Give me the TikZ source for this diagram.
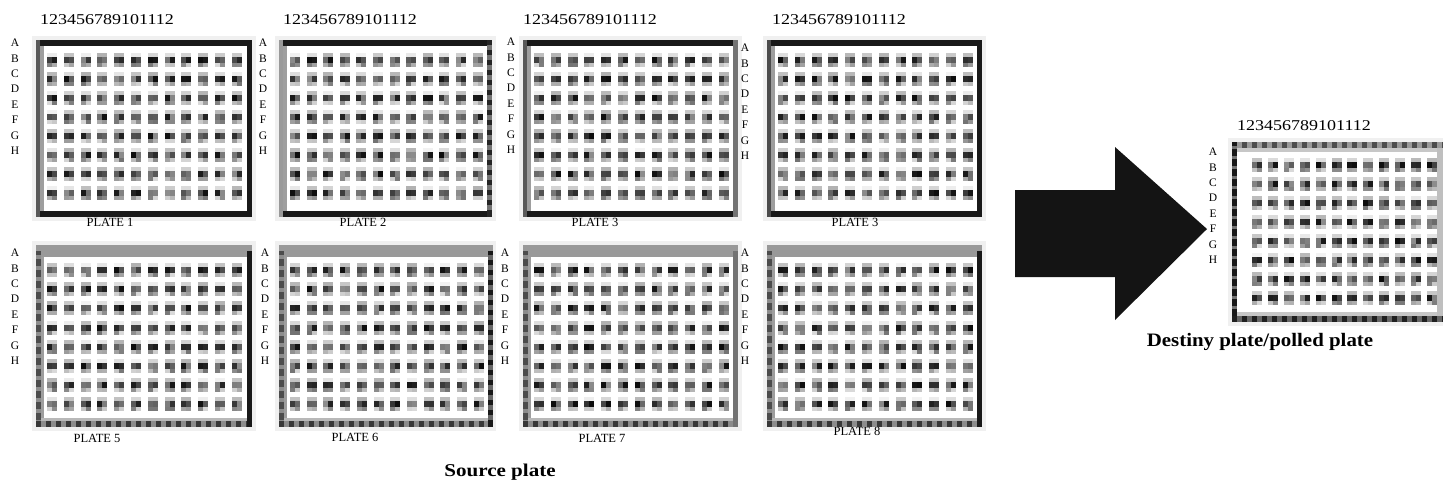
\documentclass[tikz,border=0pt]{standalone}
\usepackage{fontspec}
\setmainfont{Liberation Serif}
\usepackage{graphicx}
\tikzset{
  hdr/.style={anchor=west, inner sep=0pt, font=\fontsize{15}{18}\selectfont},
  rowlab/.style={anchor=north, inner sep=0pt, align=center, font=\fontsize{11.5}{15.4}\selectfont},
  platelab/.style={inner sep=0pt, font=\fontsize{12.5}{14}\selectfont},
  captionlab/.style={inner sep=0pt, font=\bfseries\fontsize{18}{22}\selectfont},
  mottle/.style={dash pattern=on 5pt off 5pt},
}
% wells: #1 first column x, #2 column step, #3 first row y, #4 row step
\newcommand{\platewells}[4]{%
  \foreach \ci in {0,...,11}{%
    \foreach \ri in {0,...,7}{%
      \pgfmathsetmacro{\wx}{#1+#2*\ci}%
      \pgfmathsetmacro{\wy}{#3+#4*\ri}%
      \pgfmathrandominteger{\ga}{5}{30}%
      \pgfmathrandominteger{\gb}{45}{95}%
      \pgfmathrandominteger{\gc}{45}{95}%
      \pgfmathrandominteger{\gd}{15}{55}%
      \pgfmathrandominteger{\ge}{15}{55}%
      \fill[black!\ga] (\wx-5,\wy-7) rectangle (\wx+5,\wy-3);
      \fill[black!\gb] (\wx-5,\wy-3) rectangle (\wx,\wy+3);
      \fill[black!\gc] (\wx,\wy-3) rectangle (\wx+5,\wy+3);
      \fill[black!\gd] (\wx-5,\wy+3) rectangle (\wx,\wy+7);
      \fill[black!\ge] (\wx,\wy+3) rectangle (\wx+5,\wy+7);
    }}}
% top-row plate frame: #1 L, #2 R, #3 left outer colour, #4 right colour
\newcommand{\topframe}[4]{%
  \fill[black!90] (#1,40) rectangle (#2,46);
  \fill[black!90] (#1,211) rectangle (#2,217);
  \fill[#3] (#1,40) rectangle (#1+4,217);
  \fill[black!38] (#1+4,46) rectangle (#1+8,211);
  \fill[#4] (#2-5,40) rectangle (#2,217);
}
% bottom-row plate frame: #1 L, #2 R, #3 right colour
\newcommand{\botframe}[3]{%
  \fill[black!40] (#1,245) rectangle (#2,257);
  \fill[black!70] (#1,251) rectangle (#1+5,427);
  \draw[black!45, line width=5pt, dash pattern=on 4pt off 7pt] (#1+2.5,255) -- (#1+2.5,421);
  \fill[black!38] (#1+5,257) rectangle (#1+8,418);
  \fill[black!28] (#1+5,418) rectangle (#2-5,421);
  \fill[black!45] (#1,421) rectangle (#2,427);
  \draw[black!78, line width=6pt, mottle] (#1,424) -- (#2,424);
  \fill[#3] (#2-5,251) rectangle (#2,427);
}
\begin{document}
\begin{tikzpicture}[x=1pt, y=-1pt]
\useasboundingbox (0,0) rectangle (1443,490);
\pgfmathsetseed{7}

% ---- faint halos round the plates
\foreach \L/\R in {36/252,279/492,523/738,767/982}{
  \draw[black!6, line width=4pt] (\L-2,38) rectangle (\R+2,219);
  \draw[black!6, line width=4pt] (\L-2,243) rectangle (\R+2,429);
}
\draw[black!6, line width=4pt] (1230,140) rectangle (1445,324);

% ---- plate labels (drawn under the frames)
\node[platelab] (p1) at (110,222.5) {PLATE 1};
\node[platelab] (p2) at (363,222.5) {PLATE 2};
\node[platelab] (p3) at (595,222.5) {PLATE 3};
\node[platelab] (p4) at (855,222.5) {PLATE 3};
\node[platelab] (p5) at (97,438) {PLATE 5};
\node[platelab] (p6) at (355,437) {PLATE 6};
\node[platelab] (p7) at (602,438) {PLATE 7};
\node[platelab] (p8) at (857,431.5) {PLATE 8};

% ---- top row plates
\topframe{36}{252}{black!65}{black!90}
\platewells{52}{16.8}{60}{19}
\topframe{279}{492}{black!40}{black!85}
\draw[black!55, line width=5pt, mottle] (489.5,45) -- (489.5,212);
\platewells{295}{16.6}{60}{19}
\topframe{523}{738}{black!65}{black!55}
\platewells{539}{16.8}{60}{19}
\topframe{767}{982}{black!70}{black!90}
\platewells{783}{16.8}{60}{19}

% ---- bottom row plates
\botframe{36}{252}{black!90}
\platewells{52}{16.8}{270}{19.2}
\botframe{279}{493}{black!90}
\draw[black!60, line width=5pt, mottle] (490.5,255) -- (490.5,421);
\platewells{295}{16.7}{270}{19.2}
\botframe{523}{738}{black!55}
\platewells{539}{16.8}{270}{19.2}
\botframe{767}{982}{black!90}
\platewells{783}{16.8}{270}{19.2}

% ---- destination plate
\fill[black!40] (1232,142) rectangle (1443,148);
\draw[black!70, line width=6pt, mottle] (1232,145) -- (1443,145);
\fill[black!22] (1237,148) rectangle (1437,152);
\fill[black!90] (1232,142) rectangle (1237,322);
\draw[black!55, line width=5pt, dash pattern=on 3pt off 7pt] (1234.5,146) -- (1234.5,318);
\fill[black!25] (1437,148) rectangle (1443,316);
\fill[black!22] (1237,312) rectangle (1437,316);
\fill[black!60] (1232,316) rectangle (1443,322);
\draw[black!88, line width=6pt, mottle] (1232,319) -- (1443,319);
\platewells{1257}{15.9}{165}{19}

% ---- column headers
\node[hdr] (h1) at (40,20) {\scalebox{1.2}[1]{123456789101112}};
\node[hdr] (h2) at (283,20) {\scalebox{1.2}[1]{123456789101112}};
\node[hdr] (h3) at (523,20) {\scalebox{1.2}[1]{123456789101112}};
\node[hdr] (h4) at (772,20) {\scalebox{1.2}[1]{123456789101112}};
\node[hdr] (hd) at (1237,126) {\scalebox{1.2}[1]{123456789101112}};

% ---- row letters
\node[rowlab] (r1) at (15,39) {A\\B\\C\\D\\E\\F\\G\\H};
\node[rowlab] (r2) at (263,39) {A\\B\\C\\D\\E\\F\\G\\H};
\node[rowlab] (r3) at (511,38) {A\\B\\C\\D\\E\\F\\G\\H};
\node[rowlab] (r4) at (745,44) {A\\B\\C\\D\\E\\F\\G\\H};
\node[rowlab] (r5) at (15,249) {A\\B\\C\\D\\E\\F\\G\\H};
\node[rowlab] (r6) at (265,249) {A\\B\\C\\D\\E\\F\\G\\H};
\node[rowlab] (r7) at (505,249) {A\\B\\C\\D\\E\\F\\G\\H};
\node[rowlab] (r8) at (745,249) {A\\B\\C\\D\\E\\F\\G\\H};
\node[rowlab] (rd) at (1213,148) {A\\B\\C\\D\\E\\F\\G\\H};

% ---- big arrow
\fill[black!92] (1015,190) -- (1115,190) -- (1115,147) -- (1207,229)
   -- (1115,320) -- (1115,277) -- (1015,277) -- cycle;

% ---- captions
\node[captionlab] (src) at (500,472) {\scalebox{1.17}[1]{Source plate}};
\node[captionlab, font=\bfseries\fontsize{19}{22}\selectfont] (dst) at (1260,342) {\scalebox{1.1}[1]{Destiny plate/polled plate}};
\end{tikzpicture}
\end{document}
